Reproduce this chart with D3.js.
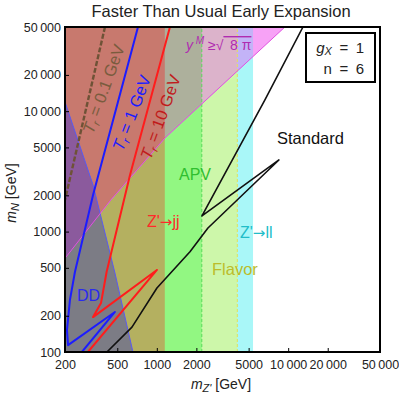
<!DOCTYPE html>
<meta charset="utf-8">
<style>
body { margin: 0; background: #fff; }
text { font-family: "Liberation Sans", Arial, sans-serif; }
</style>
<svg></svg>
<script src="https://d3js.org/d3.v7.min.js"></script>
<script>

// tick values
var mzTicks = [200, 500, 1000, 2000, 5000, 10000, 20000, 50000];
var mnTicks = [100, 200, 500, 1000, 2000, 5000, 10000, 20000, 50000];

// exclusion bands: upper edge in m_Z' (GeV)
var bandNames = ["zll", "flavor", "apv", "jj"];
var bandEdges = [5400, 4100, 2200, 1150];

// y^M >= sqrt(8 pi) boundary  [m_Z', m_N]
var pinkEdge = [[200, 600], [450, 1850], [1154, 5986], [9440, 50000]];
// direct detection boundary
var ddEdge = [[200, 11925], [327, 2438], [480, 453], [658, 100]];

// contours [m_Z', m_N]
var tr01 = [[403, 50000], [200, 1833]];
var tr1 = [[719, 50000], [327, 2014], [238, 462], [218, 270], [207, 152], [211, 114], [480, 215], [269, 100]];
var tr10 = [[1259, 50000], [625, 2952], [415, 464], [376, 255], [327, 195], [1002, 480], [299, 100]];
var standard = [[417, 100], [647, 161], [1002, 340], [1788, 681], [2450, 1071], [8500, 3934], [2206, 1348], [6652, 12390], [12960, 50000]];

var fills = {zll: "#a9f7f8", flavor: "#cdf7aa", apv: "#92f782", jj: "#b4b060"};
var pinkFills = {none: "#f7a2f6", zll: "#c3b3f7", flavor: "#dcb3cb", apv: "#adb09c", jj: "#c8796e"};

var W = 399, H = 394;
var svg = d3.select("svg").attr("width", W).attr("height", H);

var x = d3.scaleLog().domain([200, 50000]).range([65, 380]);
var y = d3.scaleLog().domain([100, 50000]).range([352, 27]);

var line = d3.line().x(function(d) { return x(d[0]); }).y(function(d) { return y(d[1]); });

var defs = svg.append("defs");
defs.append("clipPath").attr("id", "plotClip")
  .append("rect").attr("x", x(200)).attr("y", y(50000))
  .attr("width", x(50000) - x(200)).attr("height", y(100) - y(50000));

var pinkPoly = pinkEdge.concat([[200, 50000]]);
var ddPoly = ddEdge.concat([[200, 100]]);
defs.append("clipPath").attr("id", "pinkClip")
  .append("path").attr("d", line(pinkPoly) + "Z");

var plot = svg.append("g").attr("clip-path", "url(#plotClip)");

function drawBands(g, colors) {
  bandNames.forEach(function(n, i) {
    g.append("rect")
      .attr("x", x(200)).attr("y", y(50000))
      .attr("width", x(bandEdges[i]) - x(200))
      .attr("height", y(100) - y(50000))
      .attr("fill", colors[n]);
  });
}

drawBands(plot, fills);

// pink region, with its own shades over each band
var pinkG = plot.append("g").attr("clip-path", "url(#pinkClip)");
pinkG.append("rect").attr("x", x(200)).attr("y", y(50000))
  .attr("width", x(50000) - x(200)).attr("height", y(100) - y(50000))
  .attr("fill", pinkFills.none);
drawBands(pinkG, pinkFills);

// band edges dashed
plot.append("line").attr("x1", x(2200)).attr("x2", x(2200)).attr("y1", y(100)).attr("y2", y(50000))
  .attr("stroke", "#5ada5a").attr("stroke-width", 1).attr("stroke-dasharray", "3,2");
plot.append("line").attr("x1", x(4100)).attr("x2", x(4100)).attr("y1", y(100)).attr("y2", y(50000))
  .attr("stroke", "#e2e25a").attr("stroke-width", 1).attr("stroke-dasharray", "3,2");

// DD region
plot.append("path").attr("d", line(ddPoly) + "Z").attr("fill", "#7c7c85");
plot.append("g").attr("clip-path", "url(#pinkClip)")
  .append("path").attr("d", line(ddPoly) + "Z").attr("fill", "#8b5a9d");
plot.append("path").attr("d", line(ddEdge)).attr("fill", "none")
  .attr("stroke", "#5a5af0").attr("stroke-width", 1);
plot.append("path").attr("d", line(pinkEdge)).attr("fill", "none")
  .attr("stroke", "#e050e0").attr("stroke-width", 1);

// contours
plot.append("path").attr("d", line(tr01)).attr("fill", "none")
  .attr("stroke", "#6e5236").attr("stroke-width", 2.4).attr("stroke-dasharray", "5,2");
plot.append("path").attr("d", line(tr1)).attr("fill", "none")
  .attr("stroke", "#1c1cff").attr("stroke-width", 2).attr("stroke-linejoin", "round");
plot.append("path").attr("d", line(tr10)).attr("fill", "none")
  .attr("stroke", "#ff1c1c").attr("stroke-width", 2).attr("stroke-linejoin", "round");
plot.append("path").attr("d", line(standard)).attr("fill", "none")
  .attr("stroke", "#111").attr("stroke-width", 1.6).attr("stroke-linejoin", "round");

// axes
var fmt = function(d) { return d >= 10000 ? d3.format(",")(d).replace(",", "\u2009") : d; };
var xAxis = svg.append("g").attr("transform", "translate(0," + y(100) + ")")
  .call(d3.axisBottom(x).tickValues(mzTicks).tickFormat(fmt).tickSize(-4).tickPadding(8));
var yAxis = svg.append("g").attr("transform", "translate(" + x(200) + ",0)")
  .call(d3.axisLeft(y).tickValues(mnTicks).tickFormat(fmt).tickSize(-4).tickPadding(4));
[xAxis, yAxis].forEach(function(a) {
  a.select(".domain").remove();
  a.selectAll("text").attr("font-size", 12.5).attr("fill", "#222")
    .style("font-family", "'Liberation Sans', Arial, sans-serif");
  a.selectAll("line").attr("stroke", "#000");
});

// frame
svg.append("rect").attr("x", x(200)).attr("y", y(50000))
  .attr("width", x(50000) - x(200)).attr("height", y(100) - y(50000))
  .attr("fill", "none").attr("stroke", "#000").attr("stroke-width", 2);

// title
svg.append("text").attr("x", 221).attr("y", 17).attr("text-anchor", "middle")
  .attr("font-size", 16.5).attr("fill", "#222").text("Faster Than Usual Early Expansion");

// axis titles
var xt = svg.append("text").attr("x", 221).attr("y", 389).attr("text-anchor", "middle")
  .attr("font-size", 14).attr("fill", "#222");
xt.append("tspan").attr("font-style", "italic").text("m");
xt.append("tspan").attr("font-style", "italic").attr("font-size", 11).attr("dy", 3).text("Z'");
xt.append("tspan").attr("dy", -3).text(" [GeV]");

var yt = svg.append("text").attr("transform", "translate(16,193) rotate(-90)")
  .attr("text-anchor", "middle").attr("font-size", 14).attr("fill", "#222");
yt.append("tspan").attr("font-style", "italic").text("m");
yt.append("tspan").attr("font-style", "italic").attr("font-size", 11).attr("dy", 3).text("N");
yt.append("tspan").attr("dy", -3).text(" [GeV]");

// legend box
svg.append("rect").attr("x", 306).attr("y", 33).attr("width", 69).attr("height", 49)
  .attr("fill", "#fff").attr("stroke", "#000").attr("stroke-width", 2);
var g1 = svg.append("text").attr("x", 364).attr("y", 53).attr("text-anchor", "end")
  .attr("font-size", 15).attr("fill", "#222");
g1.append("tspan").attr("font-style", "italic").text("g");
g1.append("tspan").attr("font-style", "italic").attr("font-size", 11).attr("dy", 2).text("X");
g1.append("tspan").attr("dy", -2).text("\u2002=\u20021");
svg.append("text").attr("x", 364).attr("y", 74).attr("text-anchor", "end")
  .attr("font-size", 15).attr("fill", "#222").text("n\u2002=\u20026");

// region labels
function label(t, px, py, col, size) {
  return svg.append("text").attr("x", px).attr("y", py).attr("font-size", size || 16)
    .attr("fill", col).text(t);
}
function arrowLabel(a, b, px, py, col) {
  var t = svg.append("text").attr("x", px).attr("y", py).attr("font-size", 16).attr("fill", col);
  t.append("tspan").text(a);
  t.append("tspan").style("font-family", "'DejaVu Sans', sans-serif").attr("font-size", 15).text("\u2192");
  t.append("tspan").text(b);
}
label("Standard", 277, 144, "#111", 16.5);
label("APV", 179, 180, "#2fbf2f", 16);
arrowLabel("Z'", "jj", 147, 227, "#ff2a2a");
arrowLabel("Z'", "ll", 240, 238, "#22bdc8");
label("Flavor", 212, 275, "#bcbc2a", 16.5);
label("DD", 77, 301, "#2a2af0", 16);

// y^M >= sqrt(8 pi)
var ym = svg.append("text").attr("x", 186).attr("y", 50).attr("font-size", 14).attr("fill", "#b02cb0");
ym.append("tspan").attr("font-style", "italic").text("y");
ym.append("tspan").attr("font-style", "italic").attr("font-size", 10).attr("dy", -6).text(" M");
ym.append("tspan").attr("dy", 6).text(" \u2265\u221A");
ym.append("tspan").style("text-decoration", "overline").text("\u2009 8 \u03C0");

// T_r labels
function trLabel(val, cx, cy, ang, col) {
  var t = svg.append("text").attr("transform", "translate(" + cx + "," + cy + ") rotate(" + ang + ")")
    .attr("text-anchor", "middle").attr("font-size", 16.5).attr("fill", col);
  t.append("tspan").attr("font-style", "italic").text("T");
  t.append("tspan").attr("font-style", "italic").attr("font-size", 11).attr("dy", 3).text("r");
  t.append("tspan").attr("dy", -3).text(" = " + val + " GeV");
}
trLabel("0.1", 109, 91, -70, "#7a5c3e");
trLabel("1", 137, 115, -69, "#1c1cff");
trLabel("10", 166, 119, -70, "#c01c1c");

</script>
